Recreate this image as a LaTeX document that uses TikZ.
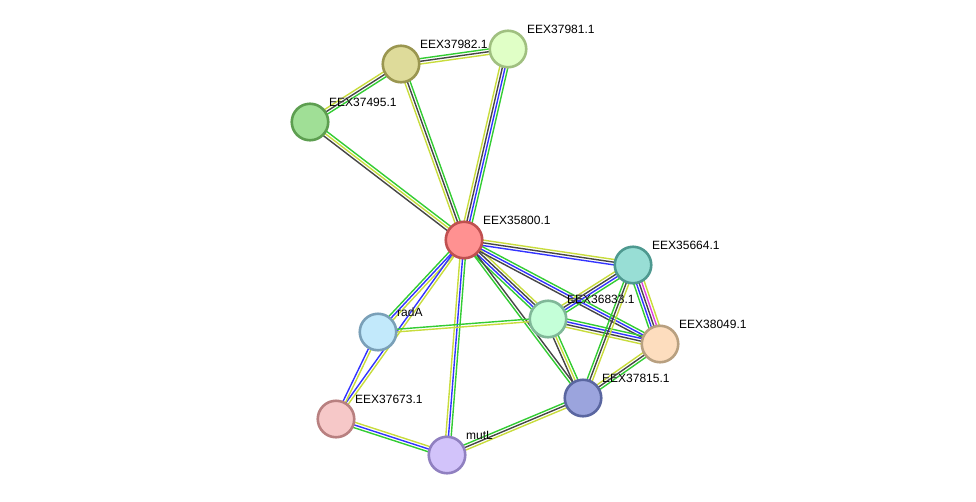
\documentclass[tikz,border=0pt]{standalone}
\usepackage{fontspec}
\setmainfont{Liberation Sans}
\usepackage[outline]{contour}
\contourlength{1.2pt}
\usetikzlibrary{calc,backgrounds}
\definecolor{sgreen}{RGB}{51,204,51}
\definecolor{sblue}{RGB}{51,51,255}
\definecolor{sblack}{RGB}{70,70,70}
\definecolor{syellow}{RGB}{200,220,60}
\definecolor{smagenta}{RGB}{224,64,224}
\tikzset{
  prot/.style={circle,minimum size=36.5pt,inner sep=0pt,line width=2.6pt},
  plabel/.style={anchor=base west,font=\fontsize{12}{14}\selectfont,inner sep=0pt},
  evline/.style={line width=1.4pt},
}
\newcommand\stredge[3]{%
  \foreach \c [count=\i] in {#3} {\xdef\nedge{\i}}%
  \foreach \c [count=\i] in {#3} {%
    \pgfmathsetmacro\off{(\i-(\nedge+1)/2)*2.7}%
    \draw[evline,\c] ($(#1.center)!\off pt!90:(#2.center)$) -- ($(#2.center)!\off pt!-90:(#1.center)$);
  }%
}
\newcommand\prot[6]{% name, x, y, fill, border, label
  \definecolor{f#1}{HTML}{#4}\definecolor{b#1}{HTML}{#5}%
  \node[prot,fill=f#1,draw=b#1] (#1) at (#2,#3) {};
  \node[plabel] (#1-l) at (#2+19,#3-16) {\contour{white}{#6}};
}
\begin{document}
\begin{tikzpicture}[x=1pt,y=-1pt]
\useasboundingbox (0,0) rectangle (976,501);
\prot{n35800}{464}{240}{FF9191}{C05050}{EEX35800.1}
\prot{n37982}{401}{64}{DEDB9A}{9A9650}{EEX37982.1}
\prot{n37981}{508}{49}{E0FFC6}{A0C080}{EEX37981.1}
\prot{n37495}{310}{122}{A0DF96}{5D9E50}{EEX37495.1}
\prot{n35664}{633}{265}{98DED5}{4E9990}{EEX35664.1}
\prot{n36833}{548}{319}{C4FFD8}{80B898}{EEX36833.1}
\prot{n38049}{660}{344}{FDDDBE}{B8A080}{EEX38049.1}
\prot{nradA}{378}{332}{C2E9FB}{7AA0B8}{radA}
\prot{n37673}{336}{419}{F6C8C8}{B88080}{EEX37673.1}
\prot{n37815}{583}{398}{9BA4DD}{5A66A0}{EEX37815.1}
\prot{nmutL}{447}{455}{D2C3FA}{9080C0}{mutL}
\begin{pgfonlayer}{background}
\stredge{n37495}{n37982}{sgreen,sblack,syellow}
\stredge{n37982}{n37981}{syellow,sblack,sgreen}
\stredge{n37982}{n35800}{syellow,sblack,sgreen}
\stredge{n37981}{n35800}{syellow,sblack,sblue,sgreen}
\stredge{n37495}{n35800}{sblack,syellow,sgreen}
\stredge{n35800}{n35664}{sblue,sblack,syellow}
\stredge{n35800}{n36833}{sgreen,sblue,sblack,syellow}
\stredge{n35800}{n38049}{sblack,sblue,sgreen}
\stredge{n35800}{n37815}{sgreen,sblack}
\stredge{n35800}{nradA}{sgreen,sblue,syellow}
\stredge{n35800}{nmutL}{syellow,sblue,sgreen}
\stredge{n35800}{n37673}{sblue,syellow}
\stredge{nradA}{n37673}{sblue,syellow}
\stredge{n37673}{nmutL}{sgreen,sblue,syellow}
\stredge{nmutL}{n37815}{syellow,sblack,sgreen}
\stredge{nradA}{n36833}{syellow,sgreen}
\stredge{n36833}{n35664}{sgreen,sblue,sblack,syellow}
\stredge{n36833}{n38049}{syellow,sblack,sblue,sgreen}
\stredge{n36833}{n37815}{sblack,syellow,sgreen}
\stredge{n35664}{n38049}{sgreen,sblue,sblack,smagenta,syellow}
\stredge{n35664}{n37815}{sgreen,sblack,syellow}
\stredge{n38049}{n37815}{syellow,sblack,sgreen}
\end{pgfonlayer}
\end{tikzpicture}
\end{document}
